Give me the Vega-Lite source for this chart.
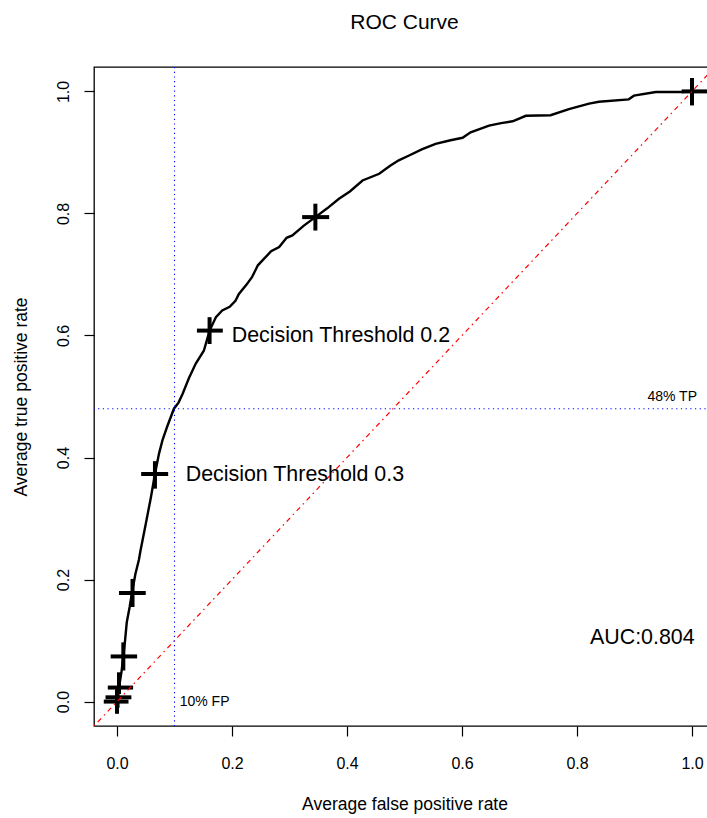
{
  "$schema": "https://vega.github.io/schema/vega-lite/v6.json",
  "autosize": "none",
  "padding": {"left": 94, "top": 67, "right": 0, "bottom": 92},
  "width": 621,
  "height": 659,
  "background": "white",
  "title": {"text": "ROC Curve", "font": "Liberation Sans", "fontSize": 21, "fontWeight": "normal", "color": "black", "anchor": "middle", "baseline": "alphabetic", "offset": 16},
  "config": {
    "view": {"stroke": "black", "strokeWidth": 1.3},
    "axis": {"domain": false, "grid": false, "tickColor": "black", "tickSize": 10, "tickWidth": 1.2, "labelFont": "Liberation Sans", "labelFontSize": 16, "labelColor": "black", "titleFont": "Liberation Sans", "titleFontSize": 17.5, "titleFontWeight": "normal", "titleColor": "black"},
    "axisX": {"labelAngle": 0, "labelPadding": 19, "titleY": 83, "titleBaseline": "alphabetic"},
    "axisY": {"labelAngle": -90, "labelAlign": "center", "labelBaseline": "alphabetic", "labelPadding": 16, "titleX": -68, "titleBaseline": "alphabetic", "titleAngle": -90}
  },
  "datasets": {
    "curve": [
      {"x": 0.0, "y": 0.0}, {"x": 0.0005, "y": 0.007}, {"x": 0.0035, "y": 0.023}, {"x": 0.008, "y": 0.05},
      {"x": 0.011, "y": 0.074}, {"x": 0.014, "y": 0.1}, {"x": 0.017, "y": 0.13}, {"x": 0.022, "y": 0.155},
      {"x": 0.026, "y": 0.178}, {"x": 0.032, "y": 0.209}, {"x": 0.038, "y": 0.232}, {"x": 0.041, "y": 0.248},
      {"x": 0.05, "y": 0.291}, {"x": 0.059, "y": 0.335}, {"x": 0.066, "y": 0.373}, {"x": 0.073, "y": 0.406},
      {"x": 0.079, "y": 0.428}, {"x": 0.087, "y": 0.45}, {"x": 0.099, "y": 0.48}, {"x": 0.107, "y": 0.49},
      {"x": 0.114, "y": 0.504}, {"x": 0.125, "y": 0.53}, {"x": 0.137, "y": 0.554}, {"x": 0.151, "y": 0.575},
      {"x": 0.161, "y": 0.608}, {"x": 0.172, "y": 0.63}, {"x": 0.183, "y": 0.641}, {"x": 0.196, "y": 0.647},
      {"x": 0.206, "y": 0.657}, {"x": 0.212, "y": 0.668}, {"x": 0.225, "y": 0.683}, {"x": 0.235, "y": 0.696},
      {"x": 0.245, "y": 0.715}, {"x": 0.253, "y": 0.723}, {"x": 0.268, "y": 0.738}, {"x": 0.282, "y": 0.745},
      {"x": 0.295, "y": 0.76}, {"x": 0.305, "y": 0.764}, {"x": 0.325, "y": 0.78}, {"x": 0.345, "y": 0.794},
      {"x": 0.365, "y": 0.808}, {"x": 0.386, "y": 0.824}, {"x": 0.405, "y": 0.836}, {"x": 0.427, "y": 0.854},
      {"x": 0.456, "y": 0.865}, {"x": 0.475, "y": 0.878}, {"x": 0.49, "y": 0.887}, {"x": 0.508, "y": 0.895},
      {"x": 0.53, "y": 0.905}, {"x": 0.554, "y": 0.914}, {"x": 0.58, "y": 0.92}, {"x": 0.601, "y": 0.924},
      {"x": 0.615, "y": 0.933}, {"x": 0.647, "y": 0.944}, {"x": 0.668, "y": 0.948}, {"x": 0.688, "y": 0.951},
      {"x": 0.711, "y": 0.96}, {"x": 0.754, "y": 0.961}, {"x": 0.786, "y": 0.971}, {"x": 0.821, "y": 0.98},
      {"x": 0.838, "y": 0.983}, {"x": 0.89, "y": 0.987}, {"x": 0.899, "y": 0.993}, {"x": 0.937, "y": 0.999},
      {"x": 0.983, "y": 0.999}, {"x": 1.0, "y": 1.0}
    ],
    "bars": [
      {"x": 1.0, "y": 1.0, "xlo": 0.982, "xhi": 1.03, "ylo": 0.977, "yhi": 1.022},
      {"x": 0.345, "y": 0.794, "xlo": 0.322, "xhi": 0.369, "ylo": 0.772, "yhi": 0.816},
      {"x": 0.161, "y": 0.608, "xlo": 0.139, "xhi": 0.184, "ylo": 0.586, "yhi": 0.63},
      {"x": 0.066, "y": 0.373, "xlo": 0.042, "xhi": 0.089, "ylo": 0.349, "yhi": 0.394},
      {"x": 0.027, "y": 0.178, "xlo": 0.0035, "xhi": 0.05, "ylo": 0.155, "yhi": 0.201},
      {"x": 0.011, "y": 0.074, "xlo": -0.011, "xhi": 0.035, "ylo": 0.051, "yhi": 0.097},
      {"x": 0.0035, "y": 0.023, "xlo": -0.016, "xhi": 0.028, "ylo": 0.0125, "yhi": 0.048},
      {"x": 0.001, "y": 0.007, "xlo": -0.02, "xhi": 0.025, "ylo": -0.01, "yhi": 0.025},
      {"x": 0.0, "y": 0.0, "xlo": -0.023, "xhi": 0.02, "ylo": -0.02, "yhi": 0.02}
    ]
  },
  "layer": [
    {
      "data": {"name": "curve"},
      "mark": {"type": "line", "color": "black", "strokeWidth": 2.4, "clip": true},
      "encoding": {
        "x": {"field": "x", "type": "quantitative", "title": "Average false positive rate", "scale": {"domain": [-0.04, 1.04], "nice": false, "zero": false}, "axis": {"values": [0, 0.2, 0.4, 0.6, 0.8, 1.0], "format": ".1f"}},
        "y": {"field": "y", "type": "quantitative", "title": "Average true positive rate", "scale": {"domain": [-0.04, 1.04], "nice": false, "zero": false}, "axis": {"values": [0, 0.2, 0.4, 0.6, 0.8, 1.0], "format": ".1f"}}
      }
    },
    {
      "data": {"name": "bars"},
      "mark": {"type": "rule", "color": "black", "strokeWidth": 4, "clip": true},
      "encoding": {
        "x": {"field": "xlo", "type": "quantitative", "title": "Average false positive rate"},
        "x2": {"field": "xhi"},
        "y": {"field": "y", "type": "quantitative", "title": "Average true positive rate"}
      }
    },
    {
      "data": {"name": "bars"},
      "mark": {"type": "rule", "color": "black", "strokeWidth": 4, "clip": true},
      "encoding": {
        "x": {"field": "x", "type": "quantitative", "title": "Average false positive rate"},
        "y": {"field": "ylo", "type": "quantitative", "title": "Average true positive rate"},
        "y2": {"field": "yhi"}
      }
    },
    {
      "data": {"values": [{"x": -0.04, "y": -0.04}, {"x": 1.04, "y": 1.04}]},
      "mark": {"type": "line", "color": "red", "strokeWidth": 1.2, "strokeDash": [1.5, 4, 5, 4], "clip": true},
      "encoding": {
        "x": {"field": "x", "type": "quantitative", "title": "Average false positive rate"},
        "y": {"field": "y", "type": "quantitative", "title": "Average true positive rate"}
      }
    },
    {
      "data": {"values": [{"x": 0.1}]},
      "mark": {"type": "rule", "color": "blue", "strokeWidth": 1.1, "strokeDash": [1.2, 3.5]},
      "encoding": {
        "x": {"field": "x", "type": "quantitative", "title": "Average false positive rate"}
      }
    },
    {
      "data": {"values": [{"y": 0.48}]},
      "mark": {"type": "rule", "color": "blue", "strokeWidth": 1.1, "strokeDash": [1.2, 3.5]},
      "encoding": {
        "y": {"field": "y", "type": "quantitative", "title": "Average true positive rate"}
      }
    },
    {
      "data": {"values": [
        {"x": 0.1995, "y": 0.589, "label": "Decision Threshold 0.2"},
        {"x": 0.1195, "y": 0.362, "label": "Decision Threshold 0.3"},
        {"x": 0.8226, "y": 0.094, "label": "AUC:0.804"}
      ]},
      "mark": {"type": "text", "align": "left", "baseline": "alphabetic", "font": "Liberation Sans", "fontSize": 21.4, "color": "black"},
      "encoding": {
        "x": {"field": "x", "type": "quantitative", "title": "Average false positive rate"},
        "y": {"field": "y", "type": "quantitative", "title": "Average true positive rate"},
        "text": {"field": "label"}
      }
    },
    {
      "data": {"values": [{"x": 0.109, "y": -0.0066, "label": "10% FP"}]},
      "mark": {"type": "text", "align": "left", "baseline": "alphabetic", "font": "Liberation Sans", "fontSize": 14, "color": "black"},
      "encoding": {
        "x": {"field": "x", "type": "quantitative", "title": "Average false positive rate"},
        "y": {"field": "y", "type": "quantitative", "title": "Average true positive rate"},
        "text": {"field": "label"}
      }
    },
    {
      "data": {"values": [{"x": 1.0087, "y": 0.4934, "label": "48% TP"}]},
      "mark": {"type": "text", "align": "right", "baseline": "alphabetic", "font": "Liberation Sans", "fontSize": 14, "color": "black"},
      "encoding": {
        "x": {"field": "x", "type": "quantitative", "title": "Average false positive rate"},
        "y": {"field": "y", "type": "quantitative", "title": "Average true positive rate"},
        "text": {"field": "label"}
      }
    }
  ]
}
